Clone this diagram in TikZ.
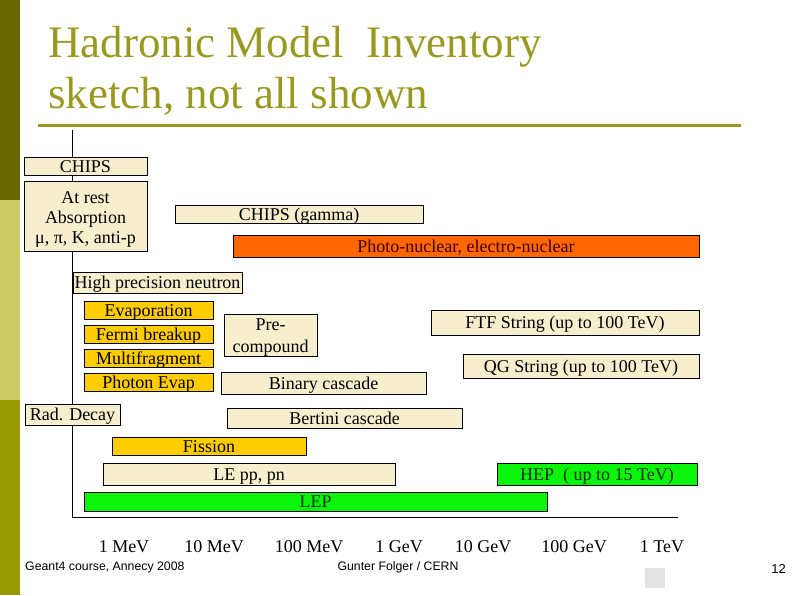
\documentclass[tikz,border=0pt]{standalone}
\usepackage{fontspec}
\setmainfont{Liberation Serif}
\newfontfamily\footfont{Liberation Sans}
\definecolor{olivedark}{RGB}{102,102,0}
\definecolor{olivelight}{RGB}{204,204,102}
\definecolor{olivemid}{RGB}{153,153,0}
\definecolor{titlecol}{RGB}{153,153,34}
\definecolor{tan}{RGB}{246,238,204}
\definecolor{gold}{RGB}{255,204,0}
\definecolor{orng}{RGB}{255,102,0}
\definecolor{grn}{RGB}{10,245,10}
\tikzset{
  model/.style={draw=black, line width=0.8pt, fill=tan, inner sep=0pt,
    font=\fontsize{18}{21}\selectfont, align=center,
    text height=12.5pt, text depth=0pt},
  nucl/.style={model, fill=gold},
  multiline/.style={text height=, text depth=},
  ticklbl/.style={anchor=base, font=\fontsize{18}{20}\selectfont}
}
\begin{document}
\begin{tikzpicture}[x=1pt, y=-1pt]
		\useasboundingbox (0,0) rectangle (794,595);
		% side bar and title
		\fill[olivedark] (0,0) rectangle (20,200);
		\fill[olivelight] (0,200) rectangle (20,400);
		\fill[olivemid] (0,400) rectangle (20,595);
		\node[anchor=base west, inner sep=0pt, text=titlecol, font=\fontsize{45}{50}\selectfont] (title1) at (48,57) {Hadronic Model\ \ Inventory};
		\node[anchor=base west, inner sep=0pt, text=titlecol, font=\fontsize{45}{50}\selectfont] (title2) at (48,108) {sketch, not all shown};
		\draw[titlecol, line width=3pt] (38,125) -- (741,125);
		% energy axis
		\coordinate (top) at (72,130);
		\coordinate (orig) at (72,517);
		\coordinate (right) at (678,517);
		\draw[line width=0.8pt] (top) -- (orig) -- (right);
		% models
		\node[model, minimum width=123, minimum height=18] (chips) at (85.5,166) {CHIPS};
		\node[model, multiline, font=\fontsize{18}{20}\selectfont, minimum width=123, minimum height=70] (rest) at (85.5,216) {\rule{0pt}{18pt}At rest\\Absorption\\μ, π, K, anti-p};
		\node[model, minimum width=248, minimum height=18] (chipsg) at (299,214) {CHIPS (gamma)};
		\node[model, fill=orng, text={rgb,255:red,60;green,0;blue,0}, minimum width=466, minimum height=22] (photo) at (466,246) {Photo-nuclear, electro-nuclear};
		\node[model, minimum width=169, minimum height=21] (hpn) at (157.5,282.5) {High precision neutron};
		\node[nucl, minimum width=129, minimum height=18] (evap) at (148.5,310) {Evaporation};
		\node[nucl, minimum width=129, minimum height=18] (fermi) at (148.5,334) {Fermi breakup};
		\node[nucl, minimum width=129, minimum height=18] (multi) at (148.5,358) {Multifragment};
		\node[nucl, minimum width=129, minimum height=18] (phevap) at (148.5,382) {Photon Evap};
		\node[model, multiline, font=\fontsize{18}{22}\selectfont, minimum width=93, minimum height=40] (precomp) at (270.5,335) {\rule{0pt}{16pt}Pre-\\compound};
		\node[model, minimum width=205, minimum height=22] (binary) at (323.5,383) {Binary cascade};
		\node[model, minimum width=268, minimum height=25] (ftf) at (565,322.5) {FTF String (up to 100 TeV)};
		\node[model, minimum width=236, minimum height=24] (qgs) at (581,366) {QG String (up to 100 TeV)};
		\node[model, minimum width=95, minimum height=21] (rdecay) at (72.5,414.5) {Rad. Decay};
		\node[model, minimum width=235, minimum height=20] (bertini) at (344.5,418) {Bertini cascade};
		\node[nucl, minimum width=194, minimum height=18] (fission) at (209,446) {Fission};
		\node[model, minimum width=292, minimum height=22] (lepp) at (249,474) {LE pp, pn};
		\node[model, fill=grn, text={rgb,255:red,0;green,50;blue,0}, minimum width=200, minimum height=22] (hep) at (597,474) {HEP\ \ ( up to 15 TeV)};
		\node[model, fill=grn, text={rgb,255:red,0;green,50;blue,0}, minimum width=463, minimum height=19] (lep) at (315.5,501.5) {LEP};
		% energy labels
		\node[ticklbl] (e1) at (124,552) {1 MeV};
		\node[ticklbl] (e2) at (214,552) {10 MeV};
		\node[ticklbl] (e3) at (309,552) {100 MeV};
		\node[ticklbl] (e4) at (399,552) {1 GeV};
		\node[ticklbl] (e5) at (483,552) {10 GeV};
		\node[ticklbl] (e6) at (574,552) {100 GeV};
		\node[ticklbl] (e7) at (662,552) {1 TeV};
		% footer
		\node[anchor=base west, inner sep=0pt, font=\footfont\fontsize{12.3}{14}\selectfont] (course) at (25,570) {Geant4 course, Annecy 2008};
		\node[anchor=base, inner sep=0pt, font=\footfont\fontsize{12.3}{14}\selectfont] (author) at (398,570) {Gunter Folger / CERN};
		\node[anchor=base east, inner sep=0pt, font=\footfont\fontsize{13}{15}\selectfont] (page) at (786,573) {12};
		\fill[gray!22] (645,568) rectangle (665,588);
	\end{tikzpicture}
\end{document}
